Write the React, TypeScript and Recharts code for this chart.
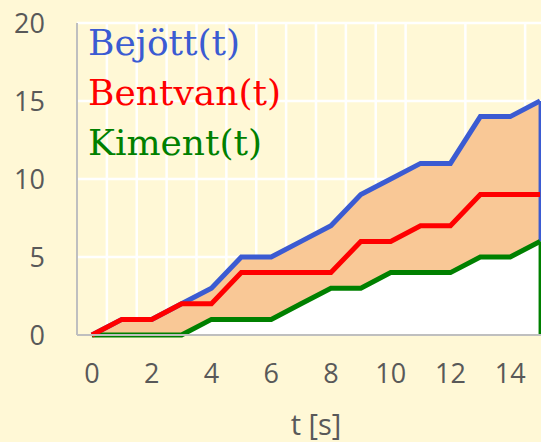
import {
  Area,
  CartesianGrid,
  ComposedChart,
  Label,
  Legend,
  Line,
  ReferenceLine,
  XAxis,
  YAxis,
} from "recharts";

const t = [0, 1, 2, 3, 4, 5, 6, 7, 8, 9, 10, 11, 12, 13, 14, 15];
const bejott = [0, 1, 1, 2, 3, 5, 5, 6, 7, 9, 10, 11, 11, 14, 14, 15];
const bentvan = [0, 1, 1, 2, 2, 4, 4, 4, 4, 6, 6, 7, 7, 9, 9, 9];
const kiment = [0, 0, 0, 0, 1, 1, 1, 2, 3, 3, 4, 4, 4, 5, 5, 6];

const xTicks = [0, 2, 4, 6, 8, 10, 12, 14];
const yTicks = [0, 5, 10, 15, 20];
const gridX = [0.5, 1.5, 2.5, 3.5, 4.5, 5.5, 6.5, 7.5, 8.5, 9.5, 10.5, 11.5, 12.5, 13.5, 14.5];
const gridY = [5, 10, 15, 20];

const BLUE = "#3b5bd2";
const RED = "#ff0000";
const GREEN = "#008000";
const ORANGE = "#f9c896";
const BG = "#fff8d6";
const TICK = "#595959";

const data = t.map((x, i) => ({
  t: x,
  bejott: bejott[i],
  bentvan: bentvan[i],
  kiment: kiment[i],
}));

const last = t.length - 1;

function LegendBox({ payload }: any) {
  const items = (payload || []).filter((p: any) => p.type !== "none");
  return (
    <div style={{ fontFamily: "DejaVu Serif", fontSize: 36, lineHeight: "50px" }}>
      {items.map((p: any) => (
        <div key={p.value} style={{ color: p.color }}>
          {p.value}
        </div>
      ))}
    </div>
  );
}

export default function App() {
  return (
    <div
      style={{
        position: "absolute",
        left: 0,
        top: 0,
        width: 541,
        height: 442,
        overflow: "hidden",
        background: BG,
      }}
    >
      <ComposedChart
        width={560}
        height={442}
        data={data}
        margin={{ top: 23, right: 5, bottom: 0, left: 0 }}
      >
        <CartesianGrid
          stroke="#ffffff"
          strokeWidth={2.5}
          verticalValues={gridX}
          horizontalValues={gridY}
        />
        <XAxis
          dataKey="t"
          type="number"
          domain={[-0.5, 15.5]}
          ticks={xTicks}
          allowDataOverflow
          height={107}
          tickLine={false}
          tickSize={0}
          tickMargin={29}
          axisLine={{ stroke: "#bfbfbf", strokeWidth: 2 }}
          tick={{ fill: TICK, fontSize: 27, fontFamily: "Open Sans" }}
        >
          <Label
            value="t [s]"
            position="insideBottom"
            offset={7}
            style={{ fill: TICK, fontSize: 29, fontFamily: "Open Sans" }}
          />
        </XAxis>
        <YAxis
          type="number"
          domain={[0, 20]}
          ticks={yTicks}
          width={77}
          tickLine={false}
          tickSize={0}
          tickMargin={32}
          axisLine={{ stroke: "#bfbfbf", strokeWidth: 2 }}
          tick={{ fill: TICK, fontSize: 27, fontFamily: "Open Sans" }}
        />
        <Area
          dataKey="bejott"
          type="linear"
          fill={ORANGE}
          fillOpacity={1}
          stroke="none"
          legendType="none"
          isAnimationActive={false}
        />
        <Area
          dataKey="kiment"
          type="linear"
          fill="#ffffff"
          fillOpacity={1}
          stroke="none"
          legendType="none"
          isAnimationActive={false}
        />
        <ReferenceLine
          segment={[
            { x: t[last], y: bejott[last] },
            { x: t[last], y: kiment[last] },
          ]}
          stroke={BLUE}
          strokeWidth={3}
        />
        <ReferenceLine
          segment={[
            { x: t[last], y: kiment[last] },
            { x: t[last], y: 0 },
          ]}
          stroke={GREEN}
          strokeWidth={3}
        />
        <ReferenceLine y={0} stroke={GREEN} strokeWidth={2} />
        <Line
          dataKey="bejott"
          name="Bejött(t)"
          type="linear"
          stroke={BLUE}
          strokeWidth={5}
          dot={false}
          isAnimationActive={false}
        />
        <Line
          dataKey="kiment"
          name="Kiment(t)"
          type="linear"
          stroke={GREEN}
          strokeWidth={5}
          dot={false}
          isAnimationActive={false}
        />
        <Line
          dataKey="bentvan"
          name="Bentvan(t)"
          type="linear"
          stroke={RED}
          strokeWidth={5}
          dot={false}
          isAnimationActive={false}
        />
        <Legend
          layout="vertical"
          align="center"
          verticalAlign="middle"
          wrapperStyle={{ left: 88, top: 18, width: 300 }}
          content={(props: any) => {
            const order = ["Bejött(t)", "Bentvan(t)", "Kiment(t)"];
            const sorted = [...(props.payload || [])].sort(
              (a: any, b: any) => order.indexOf(a.value) - order.indexOf(b.value)
            );
            return <LegendBox payload={sorted} />;
          }}
        />
      </ComposedChart>
    </div>
  );
}
